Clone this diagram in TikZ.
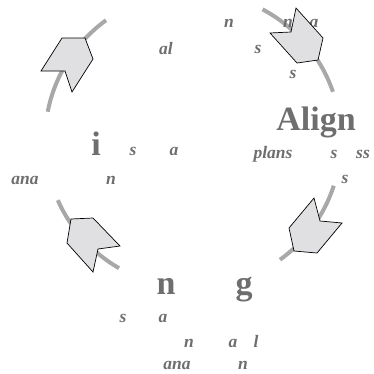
\documentclass[tikz,border=0pt]{standalone}
\usepackage{fontspec}
\setmainfont{Liberation Serif}
\usetikzlibrary{calc}
\definecolor{ink}{HTML}{6E6E6E}
\definecolor{track}{HTML}{A8A8A8}
\definecolor{shell}{HTML}{E0E0E2}
\tikzset{
  big/.style={text=ink,font=\fontsize{34}{34}\selectfont\bfseries,anchor=base,inner sep=0pt},
  small/.style={text=ink,font=\fontsize{17.5}{17.5}\selectfont\bfseries\itshape,anchor=base,inner sep=0pt},
  ring/.style={track,line width=4pt},
  chevron/.style={draw=black,fill=shell,line width=0.7pt,line join=miter}
}
\begin{document}
\begin{tikzpicture}[x=1pt,y=-1pt]
\useasboundingbox (0,0) rectangle (374,373);
\coordinate (hub) at (193,140);
% ring segments
\foreach \a/\b in {-62/-19,18/54,156/120,234/191}{\draw[ring] (hub) ++(\a:148) arc[start angle=\a,end angle=\b,radius=148];}
% big letters
\node[big] (align) at (316,130) {Align};
\node[big] (ibig) at (96,155) {i};
\node[big] (nbig) at (166,294) {n};
\node[big] (gbig) at (244,294) {g};
% small labels
\foreach \x/\y/\t [count=\i] in {229/27/n,166/54/al,288/27/n,314/27/a,258/53/s,293/78/s,273/158/plans,334/158/s,363/158/ss,345/183/s,133/155/s,174/155/a,25/184/ana,111/184/n,123/322/s,163/322/a,189/347/n,233/347/a,256/347/l,177/369/ana,243/369/n}{\node[small] (w\i) at (\x,\y) {\t};}
% arrows
\draw[chevron] (62,38)--(85,38)--(93,59)--(72,92)--(65,71)--(41,71)--cycle;
\draw[chevron] (270,33)--(291,32)--(296,8)--(323,38)--(318,60)--(297,63)--cycle;
\draw[chevron] (314,198)--(320,221)--(342,223)--(317,253)--(294,251)--(289,228)--cycle;
\draw[chevron] (71,219)--(93,218)--(120,246)--(98,249)--(93,272)--(67,243)--cycle;
\end{tikzpicture}
\end{document}
